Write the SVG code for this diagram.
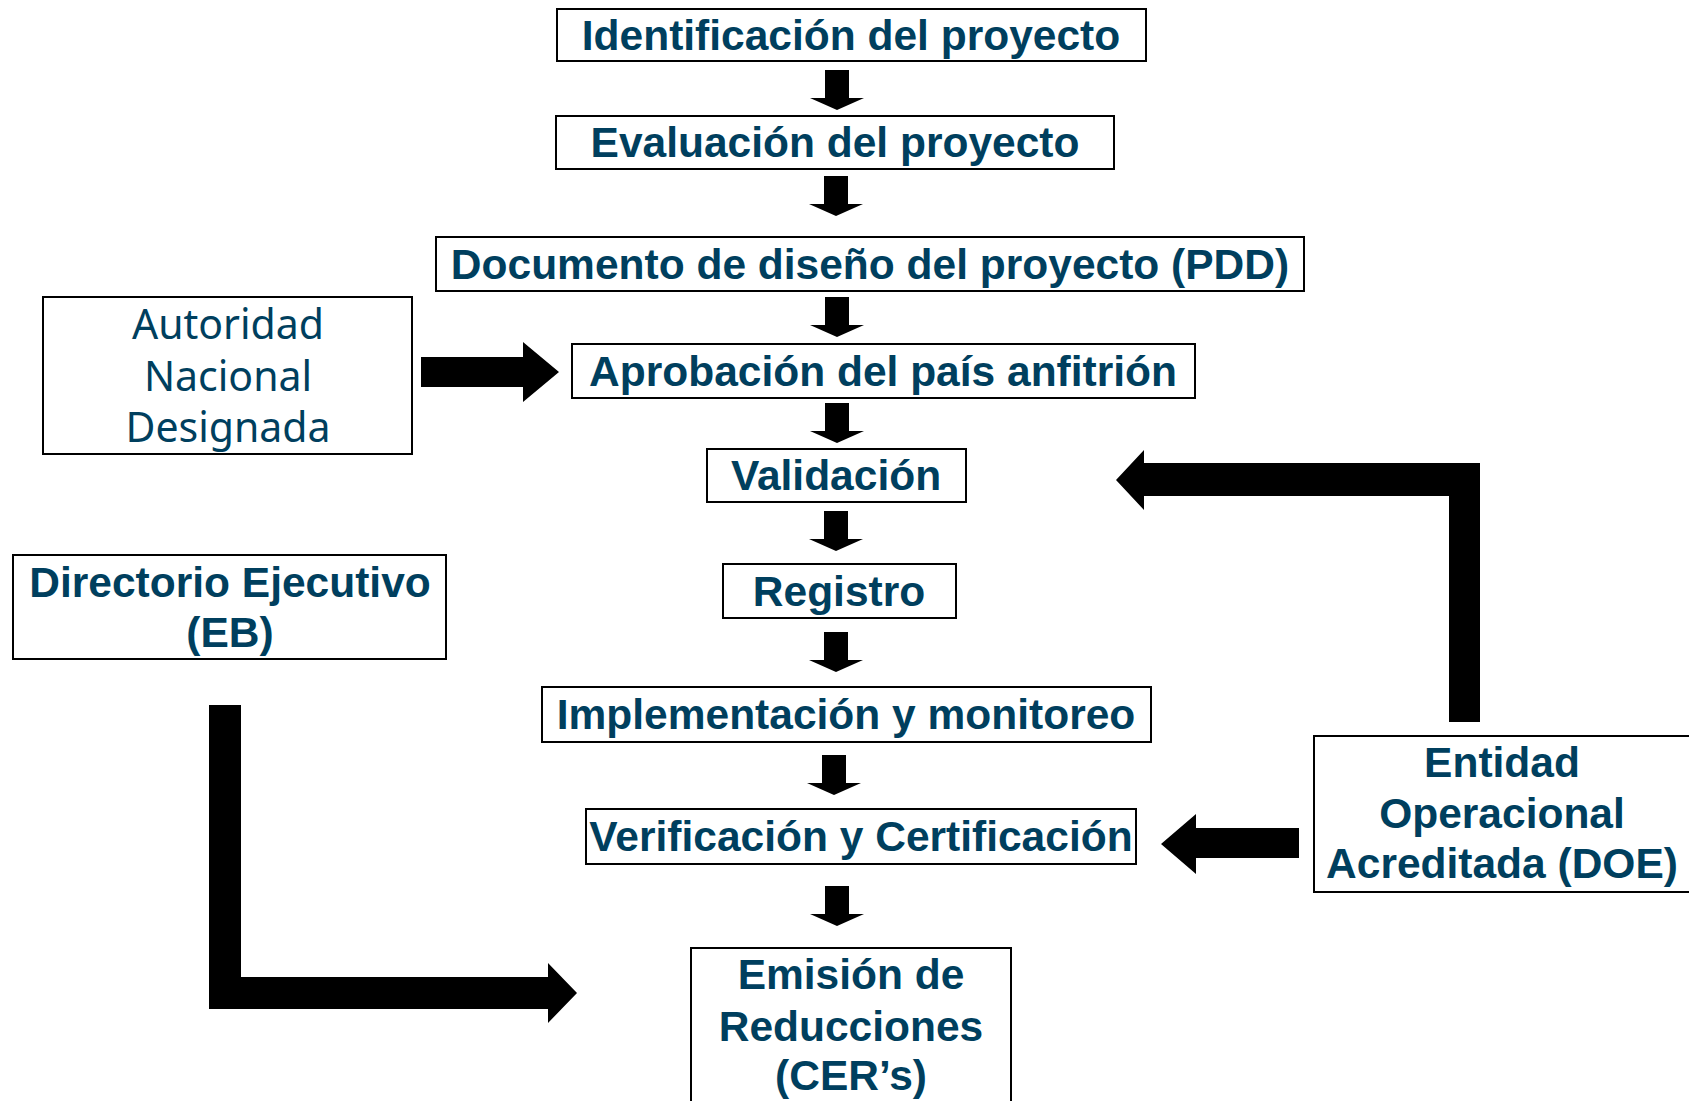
<svg xmlns="http://www.w3.org/2000/svg" width="1689" height="1101" viewBox="0 0 1689 1101">
<style>
.box{fill:#fff;stroke:#000;stroke-width:2}
.t{font-family:"Liberation Sans",Arial,sans-serif;font-weight:bold;font-size:42.5px;fill:#003f5e;text-anchor:middle}
.h{font-family:"Noto Sans","Open Sans",sans-serif;font-weight:normal;font-size:41px;fill:#003f5e;text-anchor:middle}
.a{fill:#000}
</style>
<defs>
<path id="down" d="M-12,0 H12 V28 H27 L0,40 L-27,28 H-12 Z"/>
</defs>
<rect width="1689" height="1101" fill="#fff"/>
<g id="connectors">
<use href="#down" class="a" x="837" y="70"/>
<use href="#down" class="a" x="836" y="176"/>
<use href="#down" class="a" x="837" y="297"/>
<use href="#down" class="a" x="837" y="403"/>
<use href="#down" class="a" x="836" y="511"/>
<use href="#down" class="a" x="836" y="632"/>
<use href="#down" class="a" x="834" y="755"/>
<use href="#down" class="a" x="837" y="886"/>
<polygon class="a" points="421,357 523,357 523,342 559,372 523,402 523,387 421,387"/>
<polygon class="a" points="1480,463 1480,722 1449,722 1449,496 1144,496 1144,510 1116,480 1144,450 1144,463"/>
<polygon class="a" points="1299,828 1196,828 1196,814 1161,844 1196,874 1196,858 1299,858"/>
<polygon class="a" points="209,705 241,705 241,977 548,977 548,963 577,993 548,1023 548,1009 209,1009"/>
</g>
<g id="n1"><rect class="box" x="557" y="9" width="589" height="52"/><text class="t" x="851" y="50">Identificación del proyecto</text></g>
<g id="n2"><rect class="box" x="556" y="116" width="558" height="53"/><text class="t" x="835" y="157">Evaluación del proyecto</text></g>
<g id="n3"><rect class="box" x="436" y="237" width="868" height="54"/><text class="t" x="870" y="279">Documento de diseño del proyecto (PDD)</text></g>
<g id="n4"><rect class="box" x="572" y="344" width="623" height="54"/><text class="t" x="883" y="386">Aprobación del país anfitrión</text></g>
<g id="n5"><rect class="box" x="707" y="449" width="259" height="53"/><text class="t" x="836" y="490">Validación</text></g>
<g id="n6"><rect class="box" x="723" y="564" width="233" height="54"/><text class="t" x="839" y="606">Registro</text></g>
<g id="n7"><rect class="box" x="542" y="687" width="609" height="55"/><text class="t" x="846" y="729">Implementación y monitoreo</text></g>
<g id="n8"><rect class="box" x="586" y="809" width="550" height="55"/><text class="t" x="861" y="851">Verificación y Certificación</text></g>
<g id="n9"><rect class="box" x="691" y="948" width="320" height="170"/><text class="t" x="851" y="989">Emisión de</text><text class="t" x="851" y="1041">Reducciones</text><text class="t" x="851" y="1090">(CER’s)</text></g>
<g id="and"><rect class="box" x="43" y="297" width="369" height="157"/><text class="h" x="228" y="339">Autoridad</text><text class="h" x="228" y="391">Nacional</text><text class="h" x="228" y="442">Designada</text></g>
<g id="eb"><rect class="box" x="13" y="555" width="433" height="104"/><text class="t" x="230" y="597">Directorio Ejecutivo</text><text class="t" x="230" y="647">(EB)</text></g>
<g id="doe"><rect class="box" x="1314" y="736" width="380" height="156"/><text class="t" x="1502" y="777">Entidad</text><text class="t" x="1502" y="828">Operacional</text><text class="t" x="1502" y="878">Acreditada (DOE)</text></g>
</svg>
